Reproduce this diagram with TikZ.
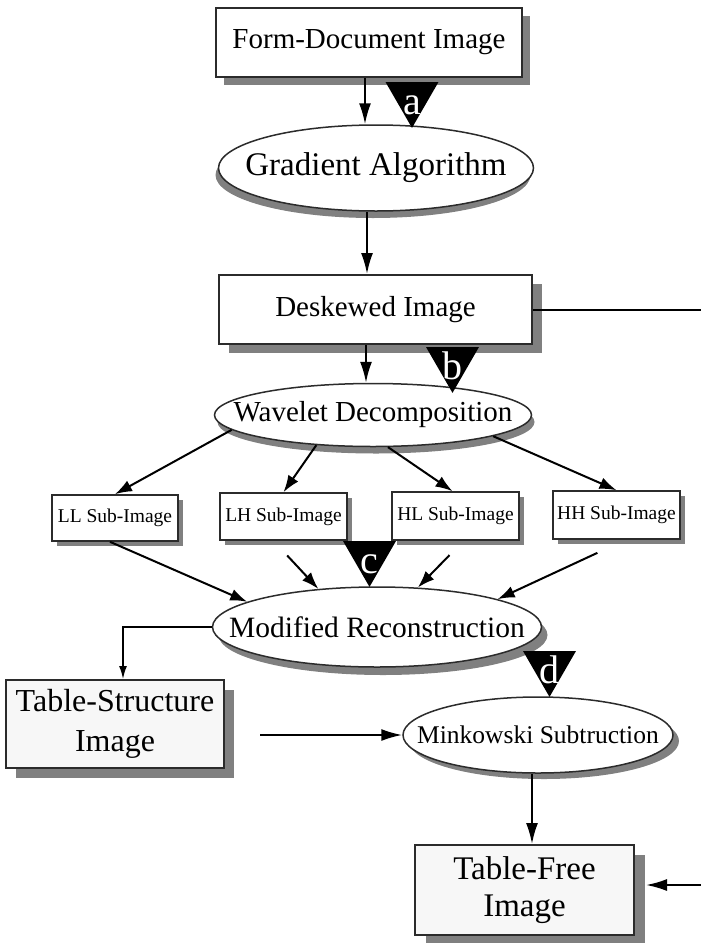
\documentclass[tikz,border=0pt]{standalone}
\usepackage{fontspec}
\setmainfont{Liberation Serif}
\usepackage{tikz}
\usetikzlibrary{positioning,arrows.meta,shapes.geometric,shadows}
\definecolor{cedge}{HTML}{2B2B2B}
\definecolor{cshade}{HTML}{808080}
\definecolor{cpale}{HTML}{F7F7F7}
\newcommand\fsz[2]{\fontsize{#1pt}{#2pt}\selectfont}
\newcommand\trimark[1]{\smash{\raisebox{-17pt}{#1}}}
\newcommand\ovaltext[1]{\makebox[0pt]{#1}}
\tikzset{
  boxshadow/.style 2 args={drop shadow={shadow xshift=#1, shadow yshift=#2,
    fill=cshade, opacity=1}},
  procbox/.style={draw=cedge, line width=2pt, fill=white, inner sep=0pt, align=center},
  subbox/.style={procbox, line width=1.6pt, minimum width=127pt, minimum height=47pt,
    boxshadow={5pt}{-5pt}, font=\fsz{19.5}{22}},
  procoval/.style={ellipse, draw=cedge, line width=1.5pt, fill=white, inner sep=0pt},
  marktri/.style={regular polygon, regular polygon sides=3, shape border rotate=180,
    minimum size=61pt, inner sep=0pt, fill=black, text=white, font=\fsz{40}{40}},
  flowarrow/.style={-{Latex[length=21pt,width=12pt]}, line width=2pt, color=black},
  subarrow/.style={-{Latex[length=17pt,width=12pt]}, line width=2pt, color=black},
  thinarrow/.style={-{Latex[length=13pt,width=8pt]}, line width=1.6pt, color=black}
}
\begin{document}
\begin{tikzpicture}[x=1pt, y=-1pt]
  \useasboundingbox (0,0) rectangle (701,943);

  % main column
  \node[procbox, boxshadow={8pt}{-8pt}, minimum width=306pt, minimum height=69pt,
    font=\fsz{29}{33}] (form) at (369,42.5) {Form-Document Image};
  \node[procoval, boxshadow={-3pt}{-7pt}, minimum width=315pt, minimum height=86pt,
    font=\fsz{33}{36}] (grad) at (376,168) {\ovaltext{Gradient Algorithm}};
  \node[procbox, boxshadow={10pt}{-9pt}, minimum width=313pt, minimum height=69pt,
    font=\fsz{29}{33}] (desk) at (375.5,309.5) {Deskewed Image};
  \node[procoval, boxshadow={3pt}{-7pt}, minimum width=317pt, minimum height=63pt,
    font=\fsz{29}{33}] (wave) at (373,415) {\ovaltext{Wavelet Decomposition}};

  % sub-images
  \node[subbox, minimum width=126pt, minimum height=46pt] (ll) at (115,518) {LL Sub-Image};
  \node[subbox] (lh) at (283.5,516.5) {LH Sub-Image};
  \node[subbox, minimum height=48pt] (hl) at (455.5,516) {HL Sub-Image};
  \node[subbox, minimum height=48pt] (hh) at (616.5,515) {HH Sub-Image};

  \node[procoval, boxshadow={6pt}{-8pt}, minimum width=329pt, minimum height=80pt,
    font=\fsz{29.5}{33}] (recon) at (377,627) {\ovaltext{Modified Reconstruction}};
  \node[procbox, fill=cpale, boxshadow={10pt}{-10pt}, minimum width=218pt, minimum height=88pt,
    font=\fsz{32}{40}] (tstruct) at (115,724) {Table-Structure\\Image};
  \node[procoval, boxshadow={6pt}{-6pt}, minimum width=270pt, minimum height=76pt,
    font=\fsz{25.5}{30}] (mink) at (538,735) {\ovaltext{Minkowski Subtruction}};
  \node[procbox, fill=cpale, boxshadow={11pt}{-10pt}, minimum width=219pt, minimum height=90pt,
    font=\fsz{33}{37}] (tfree) at (524.5,890) {Table-Free\\Image};

  % markers
  \node[marktri] (ma) at (412,97.4) {\trimark{a}};
  \node[marktri] (mb) at (452.5,362.4) {\trimark{b}};
  \node[marktri] (mc) at (369.5,556.4) {\trimark{c}};
  \node[marktri] (md) at (549.5,666.4) {\trimark{d}};

  \coordinate (rout) at (701,309.5);
  \coordinate (rin) at (701,885);

  \draw[flowarrow] ([xshift=-4pt]form.south) -- ([xshift=-11pt]grad.north);
  \draw[flowarrow] ([xshift=-9pt]grad.south) -- ([xshift=-8.5pt]desk.north);
  \draw[flowarrow] ([xshift=-9.5pt]desk.south) -- ([xshift=-7pt]wave.north);
  \draw[line width=2pt] (desk.east) -- (rout);

  \draw[subarrow] (wave.186) -- (ll.north);
  \draw[subarrow] (wave.208) -- (lh.north);
  \draw[subarrow] (wave.295) -- ([xshift=-3pt]hl.north);
  \draw[subarrow] (wave.350) -- (hh.north);

  \draw[subarrow] ([xshift=-5pt]ll.south) -- (recon.169);
  \draw[subarrow, shorten <=20pt] ([xshift=-10pt]lh.south) -- (recon.147);
  \draw[subarrow, shorten <=20pt] ([xshift=8pt]hl.south) -- (recon.44);
  \draw[subarrow, shorten <=31pt] ([xshift=9pt]hh.south) -- (recon.13);

  \draw[thinarrow] (recon.west) -| ([xshift=8pt]tstruct.north);
  \draw[flowarrow, shorten <=35pt] (tstruct.east |- mink.west) -- (mink.west);
  \draw[flowarrow] ([xshift=-6pt]mink.south) -- ([xshift=7.5pt]tfree.north);
  \draw[flowarrow] (rin) -- ([xshift=11pt, yshift=5pt]tfree.east);
\end{tikzpicture}
\end{document}
